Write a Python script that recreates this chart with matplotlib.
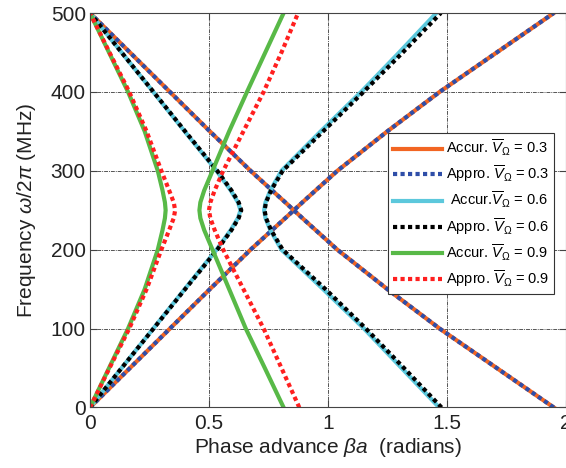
import numpy as np
import matplotlib.pyplot as plt

plt.rcParams['font.family'] = ['Liberation Sans', 'DejaVu Sans']
plt.rcParams['mathtext.fontset'] = 'custom'
plt.rcParams['mathtext.rm'] = 'Liberation Sans'
plt.rcParams['mathtext.it'] = 'Liberation Sans:italic'

# frequency samples (MHz) shared by every branch
freq = [0, 50, 100, 150, 200, 225, 240, 250, 260, 275, 300, 350, 400, 450, 500]

# V = 0.3 : two crossing branches
acc03_up = [0, 0.168, 0.336, 0.504, 0.675, 0.766, 0.821, 0.857, 0.893, 0.948, 1.04, 1.25, 1.47, 1.71, 1.95]
acc03_dn = [1.95, 1.71, 1.47, 1.25, 1.04, 0.948, 0.893, 0.857, 0.821, 0.766, 0.675, 0.504, 0.336, 0.168, 0]
app03_up = [0, 0.168, 0.336, 0.504, 0.675, 0.766, 0.821, 0.857, 0.893, 0.948, 1.04, 1.25, 1.47, 1.71, 1.95]
app03_dn = [1.95, 1.71, 1.47, 1.25, 1.04, 0.948, 0.893, 0.857, 0.821, 0.766, 0.675, 0.504, 0.336, 0.168, 0]

# V = 0.6
acc06_l = [0, 0.133, 0.266, 0.398, 0.532, 0.592, 0.622, 0.633, 0.622, 0.592, 0.532, 0.398, 0.266, 0.133, 0]
app06_l = [0, 0.133, 0.267, 0.400, 0.535, 0.595, 0.625, 0.636, 0.625, 0.595, 0.535, 0.400, 0.267, 0.133, 0]
acc06_r = [1.468, 1.31, 1.152, 0.98, 0.805, 0.758, 0.738, 0.732, 0.738, 0.758, 0.805, 0.97, 1.14, 1.30, 1.456]
app06_r = [1.478, 1.32, 1.16, 0.99, 0.81, 0.761, 0.740, 0.734, 0.740, 0.761, 0.81, 0.98, 1.15, 1.315, 1.475]

# V = 0.9
acc09_l = [0, 0.08, 0.16, 0.23, 0.285, 0.305, 0.315, 0.318, 0.315, 0.305, 0.285, 0.23, 0.16, 0.08, 0]
app09_l = [0, 0.082, 0.165, 0.238, 0.300, 0.333, 0.352, 0.358, 0.352, 0.333, 0.300, 0.238, 0.165, 0.082, 0]
acc09_r = [0.814, 0.735, 0.655, 0.585, 0.515, 0.480, 0.464, 0.460, 0.464, 0.480, 0.515, 0.585, 0.66, 0.737, 0.814]
app09_r = [0.88, 0.805, 0.73, 0.645, 0.56, 0.524, 0.506, 0.50, 0.506, 0.524, 0.56, 0.645, 0.73, 0.805, 0.875]

labels = [r'Accur. $\overline{V}_{\Omega}$ = 0.3', r'Appro. $\overline{V}_{\Omega}$ = 0.3',
          r' Accur.$\overline{V}_{\Omega}$ = 0.6', r'Appro. $\overline{V}_{\Omega}$ = 0.6',
          r'Accur. $\overline{V}_{\Omega}$ = 0.9', r'Appro. $\overline{V}_{\Omega}$ = 0.9']

fig = plt.figure(figsize=(5.66, 4.68), dpi=100)
ax = fig.add_axes([0.159, 0.1293, 0.8405, 0.8429])

dot = (0, (1, 0.8))
lw = 3.0

def draw(branches, color, ls, label):
    for i, xs in enumerate(branches):
        ax.plot(xs, freq, color=color, linestyle=ls, lw=lw,
                label=label if i == 0 else None)

draw([acc03_up, acc03_dn], '#F26522', '-', labels[0])
draw([app03_up, app03_dn], '#2F4EA8', dot, labels[1])
draw([acc06_l, acc06_r], '#5CC8DC', '-', labels[2])
draw([app06_l, app06_r], '#000000', dot, labels[3])
draw([acc09_l, acc09_r], '#58B947', '-', labels[4])
draw([app09_l, app09_r], '#FF1F1F', dot, labels[5])

ax.set_xlim(0, 2)
ax.set_ylim(0, 500)
ax.set_xticks([0, 0.5, 1, 1.5, 2])
ax.set_xticklabels(['0', '0.5', '1', '1.5', '2'])
ax.set_yticks([0, 100, 200, 300, 400, 500])
ax.tick_params(direction='in', length=5, labelsize=15, top=True, right=True,
               color='#444444', labelcolor='#222222')
ax.tick_params(axis='x', pad=5)
ax.tick_params(axis='y', pad=3)
ax.grid(True, color='#555555', lw=0.7, linestyle=(0, (4, 1, 1, 1)))
for s in ax.spines.values():
    s.set_color('#444444')

ax.set_xlabel(r'Phase advance $\beta a$  (radians)', fontsize=15, color='#222222', labelpad=2)
ax.set_ylabel(r'Frequency $\omega/2\pi$ (MHz)', fontsize=15, color='#222222', labelpad=9)

leg = ax.legend(loc='upper left', bbox_to_anchor=(0.627, 0.696), fontsize=10.5,
                handlelength=3.3, fancybox=False, framealpha=1, edgecolor='#333333',
                borderaxespad=0, labelspacing=0.4, handletextpad=0.3, borderpad=0.35)
leg.get_frame().set_linewidth(0.8)

fig.savefig('out.png', dpi=100)
